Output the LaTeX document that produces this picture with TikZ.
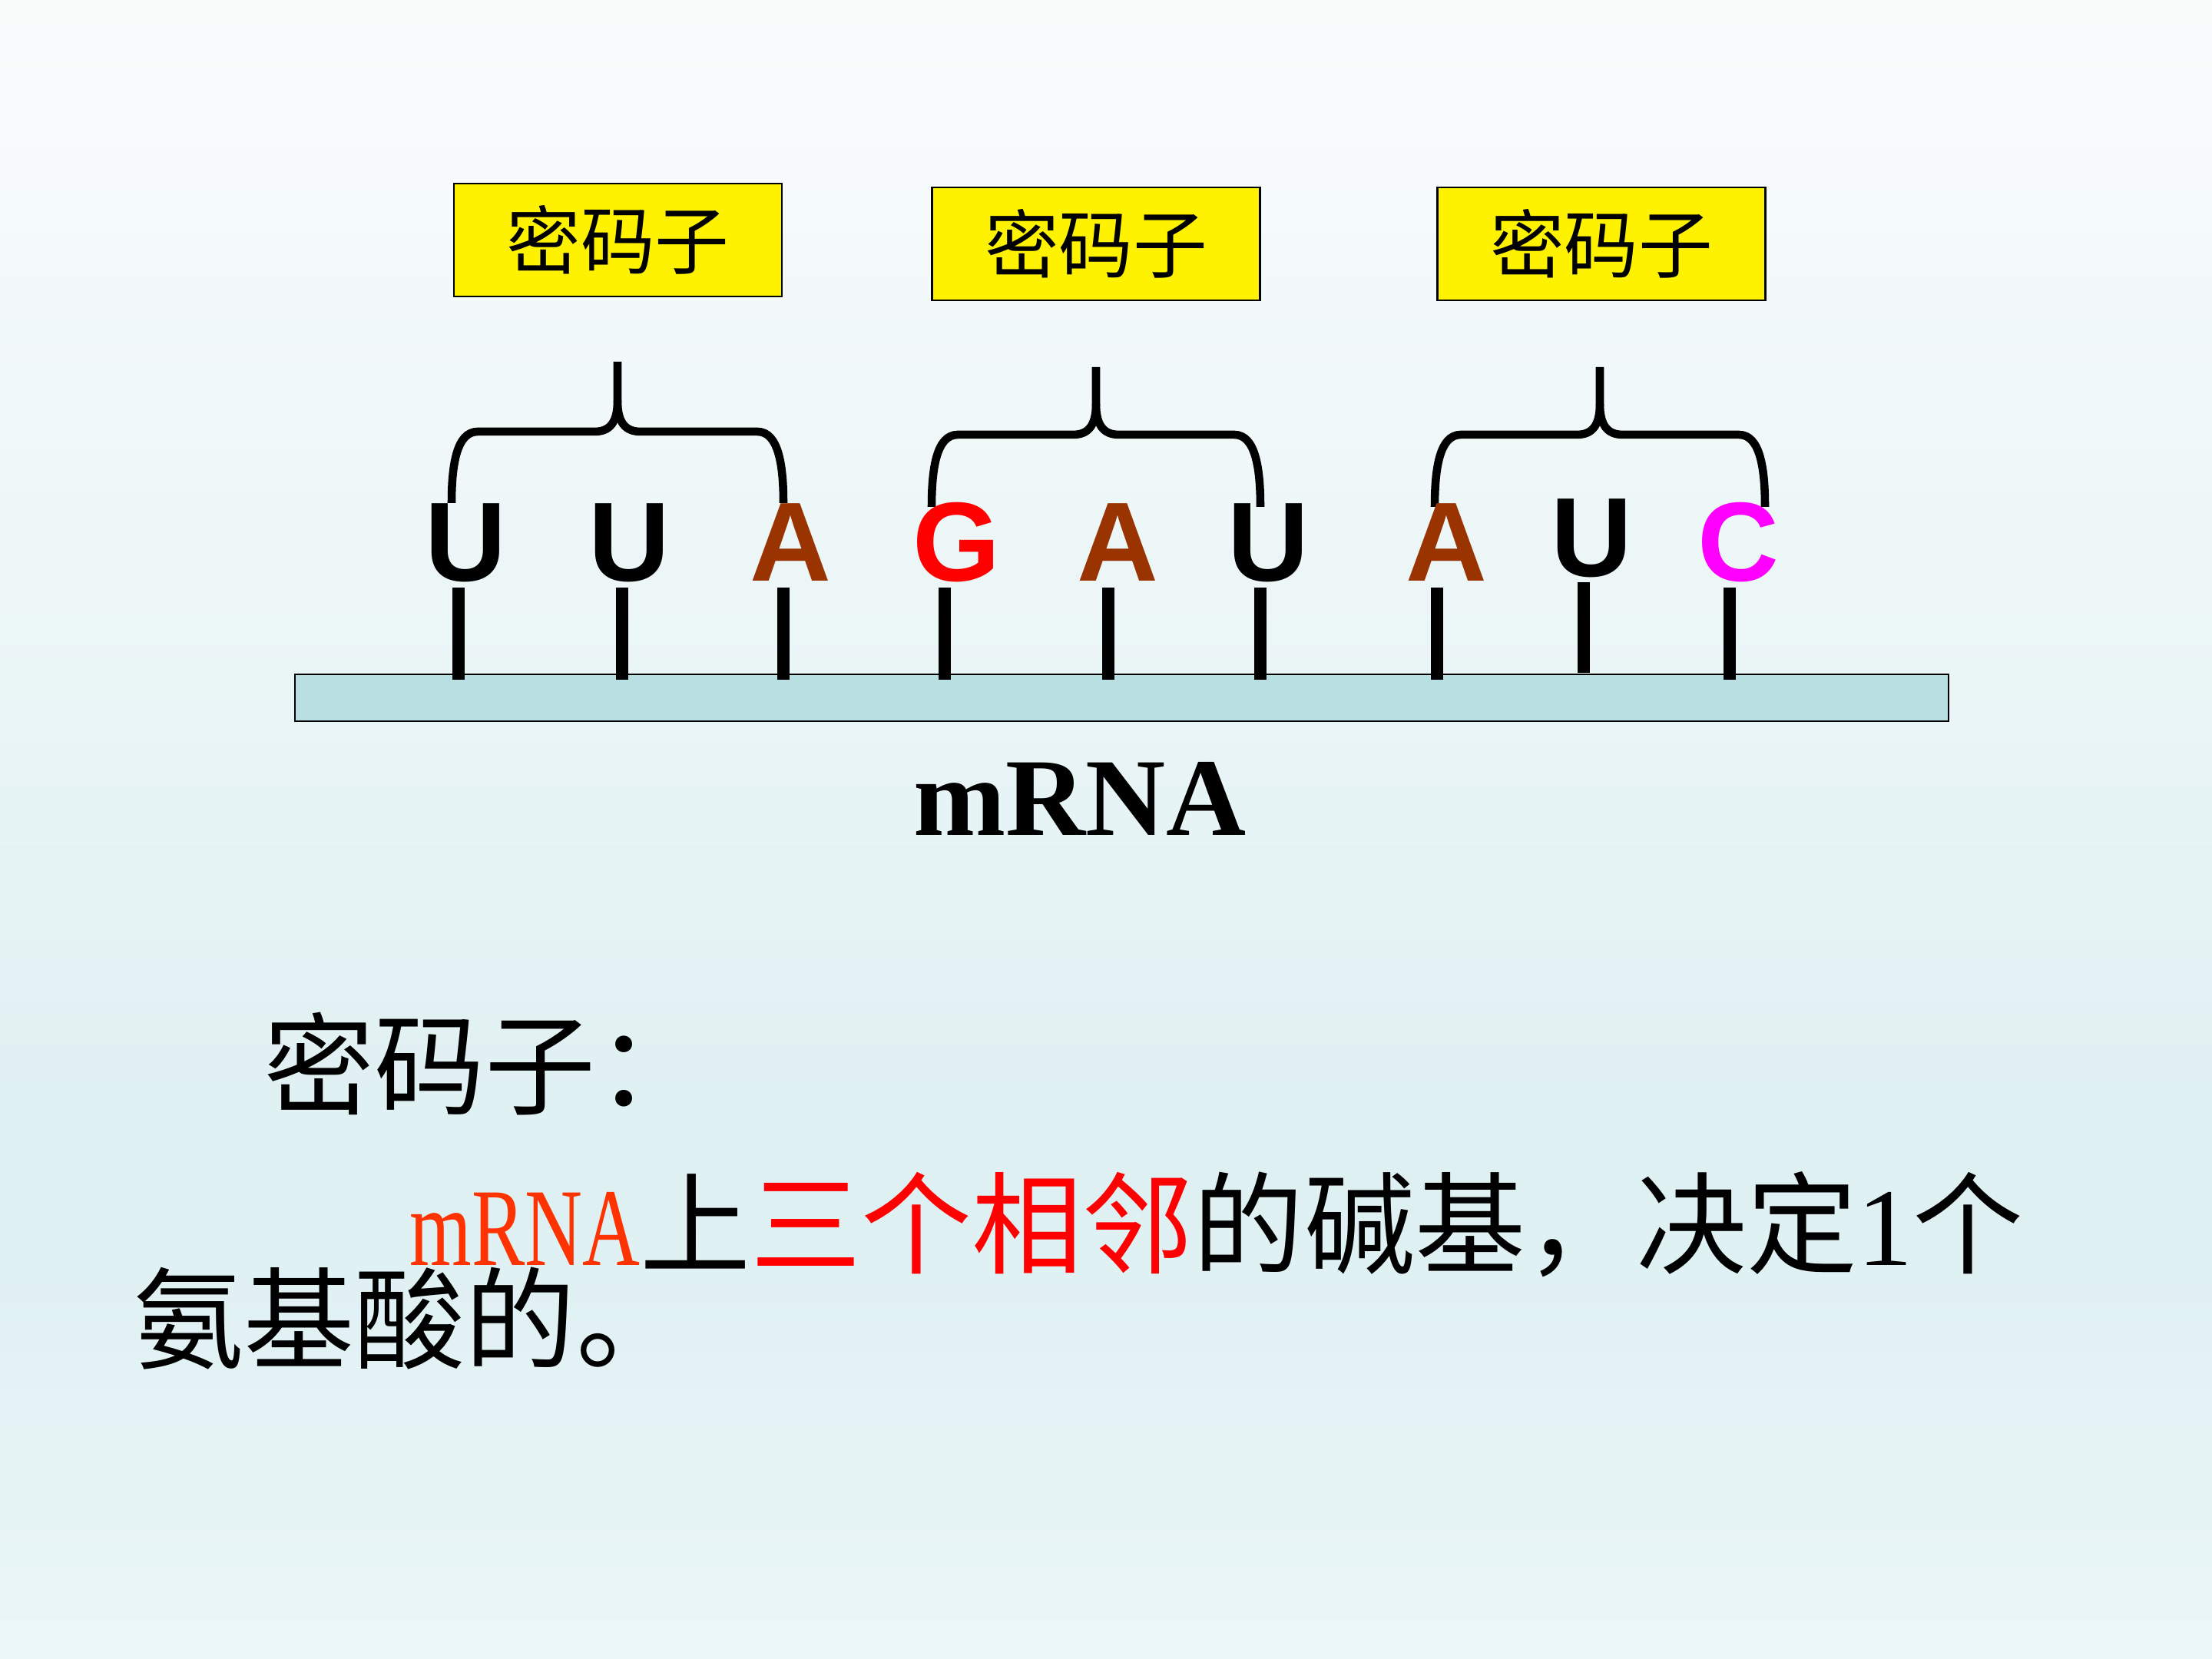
\documentclass[tikz,border=0pt]{standalone}
\usepackage{fontspec}
\usepackage{graphicx}
\setmainfont{Liberation Serif}
\setsansfont{Liberation Sans}
\newfontfamily\cjk{Noto Sans CJK SC}
\usetikzlibrary{positioning}
\definecolor{bgtop}{HTML}{FAFCFC}
\definecolor{bgmid}{HTML}{DEF0F2}
\definecolor{bgbot}{HTML}{EBF6F8}
\definecolor{stripcolor}{HTML}{B8E0E2}
\definecolor{basebrown}{HTML}{993300}
\definecolor{baseorange}{HTML}{FF3300}
\definecolor{basered}{HTML}{FF0000}
\definecolor{basepink}{HTML}{FF00FF}

% curly brace over one codon: left x, right x, foot y, bar y, tip y
\newcommand{\codonbrace}[5]{%
  \pgfmathsetmacro{\bracemid}{(#1+#2)/2}
  \draw[brace] (#1,#3) .. controls (#1,#4-0.45) and (#1+0.06,#4) .. (#1+0.34,#4)
    -- (\bracemid-0.3,#4) .. controls (\bracemid-0.1,#4) and (\bracemid,#4+0.12) .. (\bracemid,#4+0.4)
    -- (\bracemid,#5);
  \draw[brace] (#2,#3) .. controls (#2,#4-0.45) and (#2-0.06,#4) .. (#2-0.34,#4)
    -- (\bracemid+0.3,#4) .. controls (\bracemid+0.1,#4) and (\bracemid,#4+0.12) .. (\bracemid,#4+0.4);
}

\begin{document}
\begin{tikzpicture}[
  codonbox/.style={draw, line width=0.8pt, fill=yellow, minimum width=4.27cm, minimum height=1.47cm,
    inner sep=0pt, font=\cjk\fontsize{27.5}{27.5}\selectfont},
  nucleo/.style={font=\sffamily\bfseries\fontsize{41.7}{41.7}\selectfont, inner sep=0pt, anchor=base},
  stem/.style={line width=4.8pt},
  brace/.style={line width=3pt, line join=round},
  deftext/.style={font=\cjk\fontsize{41}{41}\selectfont, inner sep=0pt, anchor=base west}
]
  % background
  \useasboundingbox (0,0) rectangle (28.8,21.6);
  \shade[top color=bgtop, bottom color=bgmid] (0,6.1) rectangle (28.8,21.6);
  \shade[top color=bgmid, bottom color=bgbot] (0,0) rectangle (28.8,6.1);

  % codon boxes
  \node[codonbox] (box1) at (8.045,18.475) {密码子\hspace{0.45cm}};
  \node[codonbox] (box2) at (14.27,18.425) {密码子\hspace{0.45cm}};
  \node[codonbox] (box3) at (20.85,18.425) {密码子\hspace{0.45cm}};

  % braces
  \codonbrace{5.88}{10.20}{15.05}{15.98}{16.89}
  \codonbrace{12.13}{16.41}{15.00}{15.94}{16.82}
  \codonbrace{18.68}{22.98}{15.00}{15.94}{16.82}

  % mRNA strand
  \node[draw, line width=0.8pt, fill=stripcolor, minimum width=21.53cm, minimum height=0.61cm,
    inner sep=0pt] (strip) at (14.605,12.515) {};
  \foreach \x/\t/\b in {5.97/13.95/12.75, 8.10/13.95/12.75, 10.20/13.95/12.75,
      12.30/13.95/12.75, 14.43/13.95/12.75, 16.41/13.95/12.75,
      18.71/13.95/12.75, 20.62/14.02/12.84, 22.52/13.95/12.75}
    \draw[stem] (\x,\t) -- (\x,\b);

  % bases
  \foreach \name/\ltr/\col/\x/\y in {n1/U/black/6.06/14.03, n2/U/black/8.19/14.03,
      n3/A/basebrown/10.29/14.03, n4/G/basered/12.45/14.03, n5/A/basebrown/14.55/14.03,
      n6/U/black/16.51/14.03, n7/A/basebrown/18.83/14.03, n8/U/black/20.72/14.09,
      n9/C/basepink/22.63/14.03}
    \node[nucleo, text=\col] (\name) at (\x,\y) {\ltr};

  \node[font=\bfseries\fontsize{41}{41}\selectfont, inner sep=0pt, anchor=base] (label) at (14.06,10.72) {mRNA};

  % definition
  \node[deftext] (defhead) at (3.43,7.19) {密码子：};
  \node[deftext] (defbody) at (5.33,5.12)
    {\textcolor{baseorange}{\rmfamily\scalebox{0.72}[1]{mRNA}}上\textcolor{basered}{三个相邻}的碱基，决定{\rmfamily 1}个};
  \node[deftext] (deftail) at (1.73,3.88) {氨基酸的。};
\end{tikzpicture}
\end{document}
